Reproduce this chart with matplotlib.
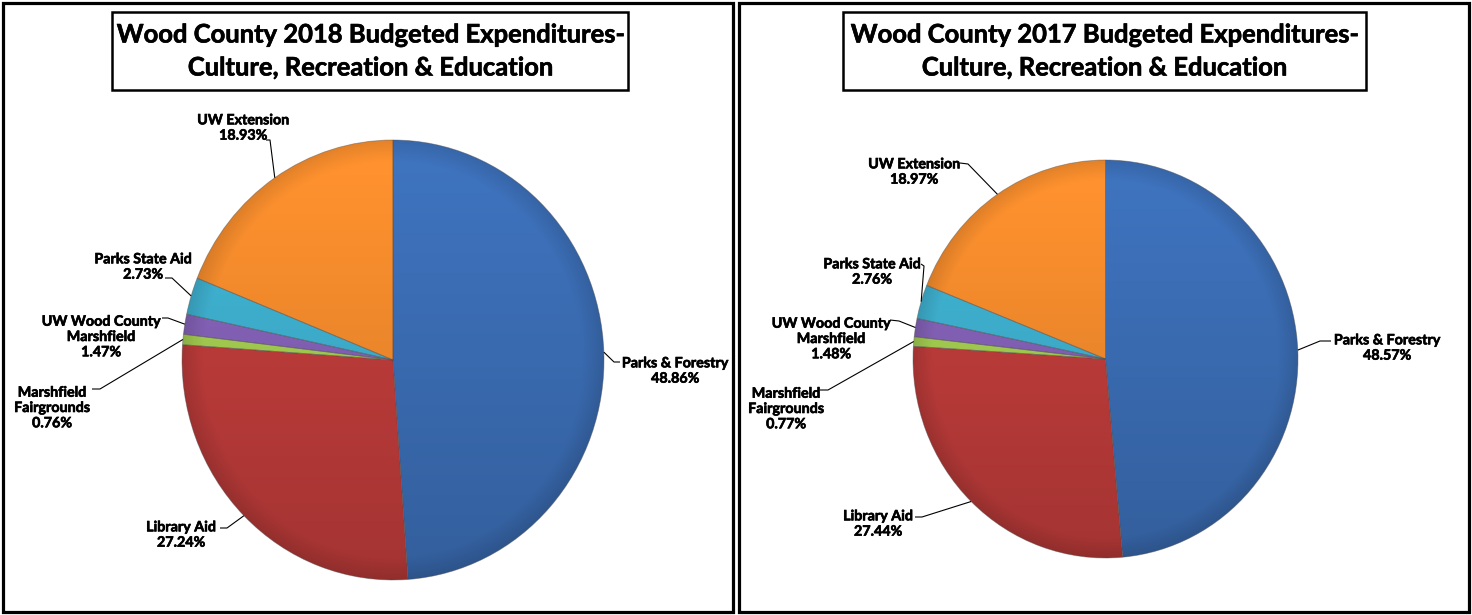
import numpy as np
import matplotlib.pyplot as plt
import matplotlib.colors as mcolors
import matplotlib.patheffects as pe
from matplotlib.patches import Rectangle

W, H = 1472, 615

categories = ["Parks & Forestry", "Library Aid", "Marshfield\nFairgrounds",
              "UW Wood County\nMarshfield", "Parks State Aid", "UW Extension"]
pct_2018 = [48.86, 27.24, 0.76, 1.47, 2.73, 18.93]
pct_2017 = [48.57, 27.44, 0.77, 1.48, 2.76, 18.97]
titles = ["Wood County 2018 Budgeted Expenditures-\nCulture, Recreation & Education",
          "Wood County 2017 Budgeted Expenditures-\nCulture, Recreation & Education"]

colors = ["#3b6db4", "#bd3c3a", "#a3cc50", "#8361b6", "#3eaecd", "#f28a2c"]

plt.rcParams['font.family'] = ['Lato', 'DejaVu Sans']
plt.rcParams['font.weight'] = 'bold'

# everything below is in pixels, measured from the top-left corner
layout = [
    dict(frame=(3, 3, 733, 612), box=(112, 12, 628, 90), title_xy=(370, 51),
         center=(393, 360), radii=(211, 220),
         text=[(675, 371), (181, 535), (52, 408), (101, 337), (143, 267), (243, 128)],
         leader=[[(620, 362), (614, 362)], [(220, 528), (227, 528)],
                 [(92, 389), (100, 389)], [(162, 318), (168, 318)],
                 [(165, 278), (172, 278)], [(266, 140), (270, 140)]]),
    dict(frame=(739, 3, 1469, 612), box=(843, 12, 1366, 90), title_xy=(1104, 51),
         center=(1105.5, 359), radii=(192.5, 199),
         text=[(1387, 348), (878, 524), (786, 409), (831, 339), (872, 272), (914, 172)],
         leader=[[(1331, 341), (1320, 341)], [(915, 517), (922, 517)],
                 [(820, 390), (828, 390)], [(890, 320), (899, 321)],
                 [(921, 264), (924, 266)], [(960, 163), (968, 164)]]),
]

# a hairline stroke makes the bold face a little heavier
heavy = [pe.withStroke(linewidth=0.45, foreground='black')]


def shade(ax, wedge, color):
    # vertical light-to-dark gradient with a darker rim, clipped to the wedge
    base = np.array(mcolors.to_rgb(color))
    xx, yy = np.meshgrid(np.linspace(-1, 1, 300), np.linspace(1, -1, 300))
    r = np.hypot(xx, yy)
    f = 1.07 - 0.20 * (1 - yy) / 2
    f = f * (1 - 0.12 * np.clip((r - 0.9) / 0.1, 0, 1))
    img = np.clip(base[None, None, :] * f[..., None], 0, 1)
    im = ax.imshow(img, extent=(-1, 1, -1, 1), aspect='auto', origin='upper',
                   interpolation='bilinear', zorder=1)
    im.set_clip_path(wedge)


fig = plt.figure(figsize=(W / 100, H / 100), dpi=100)
overlay = fig.add_axes([0, 0, 1, 1], zorder=5)
overlay.set_xlim(0, W)
overlay.set_ylim(H, 0)
overlay.axis('off')

for values, title, lay in zip([pct_2018, pct_2017], titles, layout):
    cx, cy = lay['center']
    rx, ry = lay['radii']
    pad = 1.03
    ax = fig.add_axes([(cx - rx * pad) / W, (H - cy - ry * pad) / H,
                       2 * rx * pad / W, 2 * ry * pad / H])
    wedges, _ = ax.pie(values, colors=colors, startangle=90, counterclock=False,
                       wedgeprops=dict(linewidth=0.6, edgecolor=(0.3, 0.3, 0.3, 0.45)))
    for w, c in zip(wedges, colors):
        shade(ax, w, c)
        w.set_facecolor('none')
        w.set_zorder(2)
    ax.set_aspect('auto')
    ax.set_xlim(-pad, pad)
    ax.set_ylim(-pad, pad)
    ax.axis('off')

    # data labels with leader lines to the middle of each wedge
    for w, name, v, (tx, ty), pts in zip(wedges, categories, values,
                                         lay['text'], lay['leader']):
        mid = np.deg2rad((w.theta1 + w.theta2) / 2)
        ax_pt = (cx + rx * np.cos(mid), cy - ry * np.sin(mid))
        xs = [p[0] for p in pts] + [ax_pt[0]]
        ys = [p[1] for p in pts] + [ax_pt[1]]
        overlay.plot(xs, ys, color='black', lw=0.8, solid_capstyle='butt')
        overlay.text(tx, ty, f"{name}\n{v:.2f}%", ha='center', va='center',
                     ma='center', fontsize=10.3, fontweight='bold', linespacing=1.33,
                     path_effects=heavy)

    x0, y0, x1, y1 = lay['frame']
    overlay.add_patch(Rectangle((x0, y0), x1 - x0, y1 - y0, fill=False,
                                edgecolor='black', lw=2.3))
    bx0, by0, bx1, by1 = lay['box']
    overlay.add_patch(Rectangle((bx0, by0), bx1 - bx0, by1 - by0, fill=False,
                                edgecolor='black', lw=1.8))
    overlay.text(*lay['title_xy'], title, ha='center', va='center', fontsize=18.4,
                 fontweight='bold', linespacing=1.45, path_effects=heavy)

fig.savefig('out.png', dpi=100, facecolor='white')
